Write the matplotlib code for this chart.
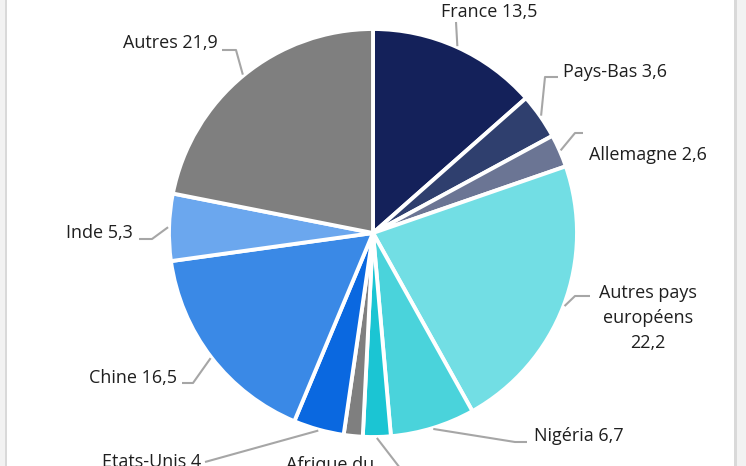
import matplotlib
matplotlib.use("Agg")
import matplotlib.pyplot as plt
from matplotlib.patches import Rectangle
import numpy as np

W, H = 746, 466

# DATA
countries = ["France", "Pays-Bas", "Allemagne", "Autres pays\neuropéens", "Nigéria",
             "Algérie", "Afrique du\nSud", "Etats-Unis", "Chine", "Inde", "Autres"]
shares = [13.5, 3.6, 2.6, 22.2, 6.7, 2.2, 1.5, 4, 16.5, 5.3, 21.9]
value_labels = ["13,5", "3,6", "2,6", "22,2", "6,7", "2,2", "1,5", "4", "16,5", "5,3", "21,9"]
colors = ["#14215A", "#2F3F6E", "#6B7594", "#72DEE4", "#4AD3DB", "#1BC5D3",
          "#7F7F7F", "#0A68E0", "#3A89E6", "#6BA7EE", "#7F7F7F"]

plt.rcParams['font.family'] = ['Open Sans', 'DejaVu Sans']

fig = plt.figure(figsize=(W / 100, H / 100), dpi=100)
fig.patch.set_facecolor("#F2F2F2")
# white card with grey side borders
fig.patches.append(Rectangle((5 / W, 0), (737 - 5) / W, 1, transform=fig.transFigure,
                             facecolor="#D9D9D9", edgecolor="none", zorder=-2))
fig.patches.append(Rectangle((7 / W, 0), (734 - 7) / W, 1, transform=fig.transFigure,
                             facecolor="white", edgecolor="none", zorder=-1))

ax = fig.add_axes([0, 0, 1, 1])
ax.set_zorder(1)
ax.patch.set_visible(False)

cx, cy, R = 373, H - 233, 204
wedges, _ = ax.pie(shares, colors=colors, startangle=90, counterclock=False,
                   center=(cx, cy), radius=R,
                   wedgeprops=dict(edgecolor="white", linewidth=2.8))
ax.set_xlim(0, W)
ax.set_ylim(0, H)
ax.set_aspect("equal")
ax.axis("off")

# label layout: (text x, text y, ha, elbow points) in pixel coords (y from top)
layout = [
    (489, 12, "center", [(456, 22)]),
    (563, 72, "left", [(545, 77), (558, 77)]),
    (589, 155, "left", [(575, 133), (583, 133)]),
    (648, 318, "center", [(575, 296), (590, 296)]),
    (534, 436, "left", [(515, 442), (527, 442)]),
    (410, 482, "left", [(400, 468)]),
    (330, 478, "center", None),
    (201, 462, "right", [(205, 462)]),
    (177, 378, "right", [(193, 383), (182, 383)]),
    (133, 233, "right", [(152, 239), (139, 239)]),
    (218, 43, "right", [(236, 50), (222, 50)]),
]

for w, name, val, (tx, ty, ha, elbow) in zip(wedges, countries, value_labels, layout):
    mid = np.deg2rad((w.theta1 + w.theta2) / 2)
    sx, sy = cx + (R + 1) * np.cos(mid), cy + (R + 1) * np.sin(mid)
    if elbow:
        xs = [sx] + [p[0] for p in elbow]
        ys = [sy] + [H - p[1] for p in elbow]
        ax.plot(xs, ys, color="#A6A6A6", lw=1.5, solid_capstyle="butt", clip_on=False)
    sep = " " if "\n" not in name or name.startswith("Afrique") else "\n"
    ax.text(tx, H - ty, f"{name}{sep}{val}", ha=ha, va="center", fontsize=13,
            color="#1F1F1F", linespacing=1.5, multialignment="center")

fig.savefig("out.png", dpi=100)
